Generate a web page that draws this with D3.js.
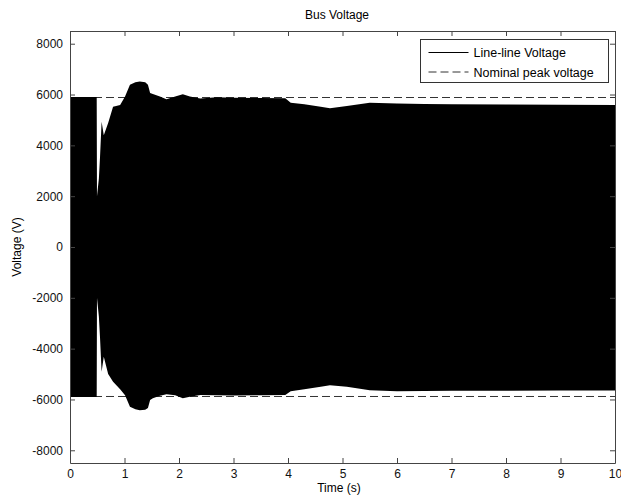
<!DOCTYPE html>
<html>
<head>
<meta charset="utf-8">
<script src="https://cdn.jsdelivr.net/npm/d3@7"></script>
<style>
  body { margin: 0; background: #fff; }
  svg { display: block; font-family: "Liberation Sans", Arial, sans-serif; }
  .axis path, .axis line { stroke: #444; }
  .axis text { fill: #111; }
</style>
</head>
<body>
<script>
// envelope of the line-line voltage
var times = [0, 0.49, 0.495, 0.53, 0.55, 0.58, 0.62, 0.70, 0.79, 0.92, 1.01, 1.10, 1.20, 1.28, 1.38, 1.43, 1.47,
             1.52, 1.65, 1.77, 1.93, 2.07, 2.2, 2.39, 2.69, 3.0, 3.5, 3.95, 4.05, 4.3, 4.6, 4.77, 5.08, 5.5,
             6.0, 6.5, 7, 8, 9, 10];
var upper = [5900, 5900, 2000, 2700, 3500, 4930, 4400, 4880, 5520, 5590, 5920, 6380, 6480, 6510, 6480, 6380, 6060,
             6020, 5920, 5815, 5920, 6010, 5920, 5840, 5890, 5870, 5860, 5850, 5680, 5620, 5520, 5460, 5550, 5680,
             5650, 5630, 5620, 5610, 5600, 5590];
var lower = [-5900, -5900, -2000, -2740, -3530, -4910, -4320, -5000, -5300, -5600, -5830, -6290, -6380, -6420, -6400,
             -6340, -6020, -5950, -5850, -5790, -5830, -5950, -5890, -5820, -5830, -5840, -5830, -5820, -5680, -5600,
             -5500, -5440, -5500, -5640, -5680, -5670, -5660, -5660, -5650, -5650];
var nominal = 5883;

var xTicks = [0, 1, 2, 3, 4, 5, 6, 7, 8, 9, 10];
var yTicks = [-8000, -6000, -4000, -2000, 0, 2000, 4000, 6000, 8000];
var legendLabels = ["Line-line Voltage", "Nominal peak voltage"];

var margin = {top: 31, right: 6, bottom: 37, left: 70},
    width = 621 - margin.left - margin.right,
    height = 500 - margin.top - margin.bottom;

var x = d3.scaleLinear().domain([0, 10]).range([0, width]),
    y = d3.scaleLinear().domain([-8500, 8500]).range([height, 0]);

var data = times.map(function(t, i) { return {t: t, hi: upper[i], lo: lower[i]}; });

var svg = d3.select("body").append("svg")
    .attr("width", 621)
    .attr("height", 500);

var g = svg.append("g")
    .attr("transform", "translate(" + margin.left + "," + margin.top + ")");

g.append("clipPath").attr("id", "clip")
  .append("rect").attr("width", width).attr("height", height);

// nominal peak lines
g.selectAll(".nominal")
    .data([nominal, -nominal])
  .enter().append("line")
    .attr("class", "nominal")
    .attr("x1", 0).attr("x2", width)
    .attr("y1", function(d) { return y(d); })
    .attr("y2", function(d) { return y(d); })
    .attr("stroke", "#333")
    .attr("stroke-dasharray", "8,4");

// signal envelope
var area = d3.area()
    .x(function(d) { return x(d.t); })
    .y0(function(d) { return y(d.lo); })
    .y1(function(d) { return y(d.hi); });

g.append("path")
    .datum(data)
    .attr("clip-path", "url(#clip)")
    .attr("fill", "#000")
    .attr("d", area);

var plain = function(d) { return String(d); };

// axes, ticks inward on all four sides
g.append("g").attr("class", "axis")
    .attr("transform", "translate(0," + height + ")")
    .call(d3.axisBottom(x).tickValues(xTicks).tickSizeInner(-5).tickSizeOuter(0).tickPadding(6).tickFormat(plain));
g.append("g").attr("class", "axis")
    .call(d3.axisTop(x).tickValues(xTicks).tickSizeInner(-5).tickSizeOuter(0).tickFormat(""));
g.append("g").attr("class", "axis")
    .call(d3.axisLeft(y).tickValues(yTicks).tickSizeInner(-5).tickSizeOuter(0).tickPadding(7).tickFormat(plain));
g.append("g").attr("class", "axis")
    .attr("transform", "translate(" + width + ",0)")
    .call(d3.axisRight(y).tickValues(yTicks).tickSizeInner(-5).tickSizeOuter(0).tickFormat(""));

g.selectAll(".axis text").style("font-size", "12px");

// title and labels
svg.append("text")
    .attr("x", 337).attr("y", 19)
    .attr("text-anchor", "middle")
    .style("font-size", "12px")
    .text("Bus Voltage");
svg.append("text")
    .attr("x", 339).attr("y", 492)
    .attr("text-anchor", "middle")
    .style("font-size", "12px")
    .text("Time (s)");
svg.append("text")
    .attr("transform", "translate(21,247) rotate(-90)")
    .attr("text-anchor", "middle")
    .style("font-size", "12px")
    .text("Voltage (V)");

// legend
var legend = svg.append("g").attr("transform", "translate(420.5,39.5)");
legend.append("rect")
    .attr("width", 188).attr("height", 43)
    .attr("fill", "#fff").attr("stroke", "#333");
legendLabels.forEach(function(label, i) {
  var ly = 13 + i * 19.5;
  legend.append("line")
      .attr("x1", 8).attr("x2", 48)
      .attr("y1", ly).attr("y2", ly)
      .attr("stroke", i ? "#333" : "#000")
      .attr("stroke-dasharray", i ? "8,4" : null);
  legend.append("text")
      .attr("x", 53).attr("y", ly + 4.5)
      .style("font-size", "12.5px")
      .text(label);
});
</script>
</body>
</html>
